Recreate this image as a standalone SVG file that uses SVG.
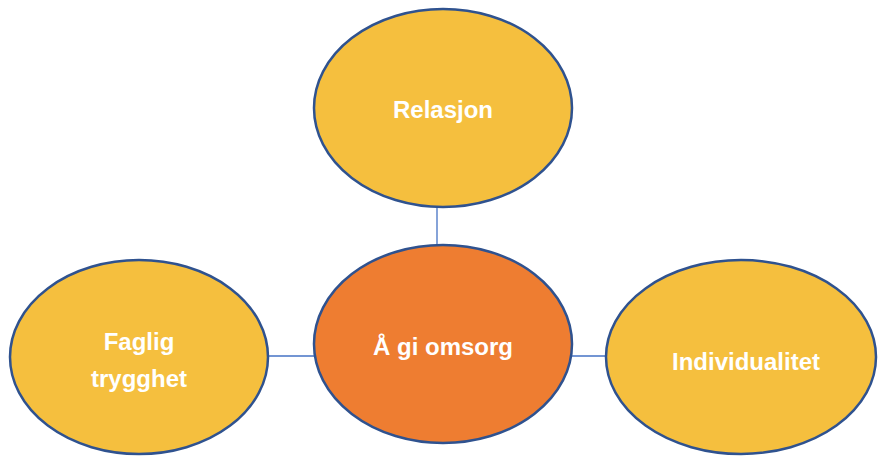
<svg xmlns="http://www.w3.org/2000/svg" width="878" height="458" viewBox="0 0 878 458">
<style>
.n{stroke:#2F528F;stroke-width:2.5}
.y{fill:#F5BF3E}
.o{fill:#EE7D31}
.t{font-family:"Liberation Sans",Arial,sans-serif;font-weight:bold;font-size:24px;fill:#fff;text-anchor:middle}
.c{stroke:#4472C4;stroke-width:1.3;fill:none}
</style>
<rect width="878" height="458" fill="#fff"/>
<g id="connectors">
<line class="c" x1="437" y1="207" x2="437" y2="246"/>
<line class="c" x1="267" y1="356" x2="315" y2="356"/>
<line class="c" x1="571" y1="356" x2="607" y2="356"/>
</g>
<g id="relasjon">
<ellipse class="n y" cx="443" cy="108" rx="129" ry="99"/>
<text class="t" x="443" y="118">Relasjon</text>
</g>
<g id="omsorg">
<ellipse class="n o" cx="443" cy="344" rx="129" ry="99"/>
<text class="t" x="443" y="355">Å gi omsorg</text>
</g>
<g id="faglig">
<ellipse class="n y" cx="139" cy="357" rx="129" ry="97"/>
<text class="t" x="139" y="350">Faglig</text>
<text class="t" x="139" y="387">trygghet</text>
</g>
<g id="individualitet">
<ellipse class="n y" cx="741" cy="357" rx="135" ry="97"/>
<text class="t" x="746" y="370">Individualitet</text>
</g>
</svg>
